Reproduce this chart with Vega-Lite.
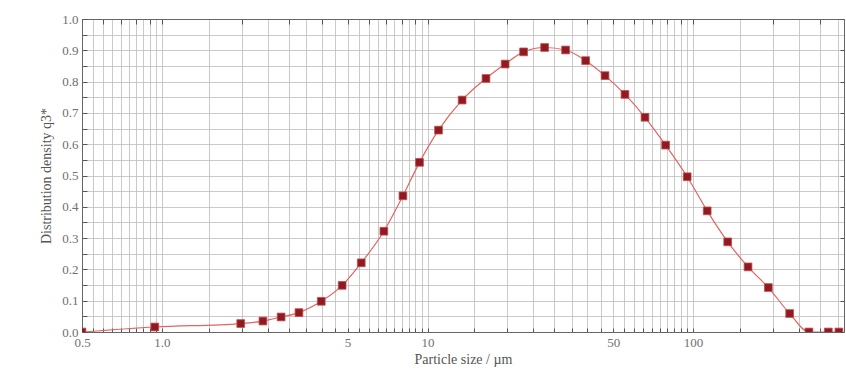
{
  "$schema": "https://vega.github.io/schema/vega-lite/v6.json",
  "width": 762,
  "height": 313,
  "autosize": {"type": "none"},
  "padding": {"left": 82, "top": 19, "right": 2, "bottom": 42},
  "background": "white",
  "config": {
    "view": {"stroke": "#777", "strokeWidth": 1},
    "font": "Liberation Serif",
    "axis": {
      "labelFont": "Liberation Serif",
      "titleFont": "Liberation Serif",
      "labelFontSize": 13,
      "titleFontSize": 14,
      "titleFontWeight": "normal",
      "labelColor": "#707070",
      "titleColor": "#555",
      "domainColor": "#666",
      "tickColor": "#555",
      "gridColor": "#bdbdbd",
      "gridWidth": 0.8
    }
  },
  "data": {
    "values": [
      {"size": 0.5, "q3": 0.0},
      {"size": 0.94, "q3": 0.016},
      {"size": 1.98, "q3": 0.027},
      {"size": 2.4, "q3": 0.035},
      {"size": 2.81, "q3": 0.048},
      {"size": 3.28, "q3": 0.062},
      {"size": 3.98, "q3": 0.098},
      {"size": 4.77, "q3": 0.149},
      {"size": 5.63, "q3": 0.221},
      {"size": 6.85, "q3": 0.322},
      {"size": 8.08, "q3": 0.435},
      {"size": 9.33, "q3": 0.542},
      {"size": 11.0, "q3": 0.645},
      {"size": 13.5, "q3": 0.741},
      {"size": 16.6, "q3": 0.81},
      {"size": 19.6, "q3": 0.856},
      {"size": 23.0, "q3": 0.895},
      {"size": 27.6, "q3": 0.909},
      {"size": 33.1, "q3": 0.901},
      {"size": 39.4, "q3": 0.867},
      {"size": 46.6, "q3": 0.819},
      {"size": 55.4, "q3": 0.759},
      {"size": 65.9, "q3": 0.686},
      {"size": 78.8, "q3": 0.597},
      {"size": 95.0, "q3": 0.496},
      {"size": 113, "q3": 0.387},
      {"size": 135, "q3": 0.288},
      {"size": 161, "q3": 0.208},
      {"size": 192, "q3": 0.142},
      {"size": 231, "q3": 0.059},
      {"size": 273, "q3": 0.0},
      {"size": 323, "q3": 0.0},
      {"size": 354, "q3": 0.0}
    ]
  },
  "layer": [
    {
      "mark": {"type": "line", "interpolate": "monotone", "color": "#e26464", "strokeWidth": 1.2, "clip": true},
      "encoding": {
        "x": {
          "field": "size",
          "type": "quantitative",
          "scale": {"type": "log", "domain": [0.5, 370], "nice": false},
          "axis": {
            "orient": "bottom",
            "title": "Particle size / µm",
            "titlePadding": 3,
            "values": [0.5, 0.55, 0.6, 0.65, 0.7, 0.75, 0.8, 0.85, 0.9, 0.95, 1, 1.5, 2, 2.5, 3, 3.5, 4, 4.5, 5, 5.5, 6, 6.5, 7, 7.5, 8, 8.5, 9, 9.5, 10, 15, 20, 25, 30, 35, 40, 45, 50, 55, 60, 65, 70, 75, 80, 85, 90, 95, 100, 150, 200, 250, 300, 350],
            "labelExpr": "datum.value == 0.5 ? '0.5' : datum.value == 1 ? '1.0' : datum.value == 5 ? '5' : datum.value == 10 ? '10' : datum.value == 50 ? '50' : datum.value == 100 ? '100' : ''",
            "labelOverlap": false,
            "labelFlush": false,
            "grid": true,
            "tickSize": -4,
            "labelPadding": 8
          }
        },
        "y": {
          "field": "q3",
          "type": "quantitative",
          "scale": {"domain": [0, 1], "nice": false, "zero": true},
          "axis": {
            "orient": "left",
            "title": "Distribution density q3*",
            "titlePadding": 8,
            "values": [0, 0.05, 0.1, 0.15, 0.2, 0.25, 0.3, 0.35, 0.4, 0.45, 0.5, 0.55, 0.6, 0.65, 0.7, 0.75, 0.8, 0.85, 0.9, 0.95, 1],
            "labelExpr": "round(datum.value * 20) % 2 == 0 ? format(datum.value, '.1f') : ''",
            "grid": true,
            "tickSize": -5,
            "labelPadding": 9
          }
        }
      }
    },
    {
      "mark": {"type": "square", "size": 60, "filled": true, "color": "#8e1b22", "stroke": "#c84a4a", "strokeWidth": 0.8, "opacity": 1, "clip": true},
      "encoding": {
        "x": {
          "field": "size",
          "type": "quantitative",
          "scale": {"type": "log", "domain": [0.5, 370], "nice": false},
          "axis": {
            "orient": "top",
            "title": null,
            "labels": false,
            "grid": false,
            "values": [0.5, 0.6, 0.7, 0.8, 0.9, 1, 2, 3, 4, 5, 6, 7, 8, 9, 10, 20, 30, 40, 50, 60, 70, 80, 90, 100, 200, 300],
            "tickSize": -5
          }
        },
        "y": {
          "field": "q3",
          "type": "quantitative",
          "scale": {"domain": [0, 1], "nice": false, "zero": true},
          "axis": {
            "orient": "right",
            "title": null,
            "labels": false,
            "grid": false,
            "values": [0, 0.1, 0.2, 0.3, 0.4, 0.5, 0.6, 0.7, 0.8, 0.9, 1],
            "tickSize": -4
          }
        }
      }
    }
  ],
  "resolve": {"axis": {"x": "independent", "y": "independent"}}
}
